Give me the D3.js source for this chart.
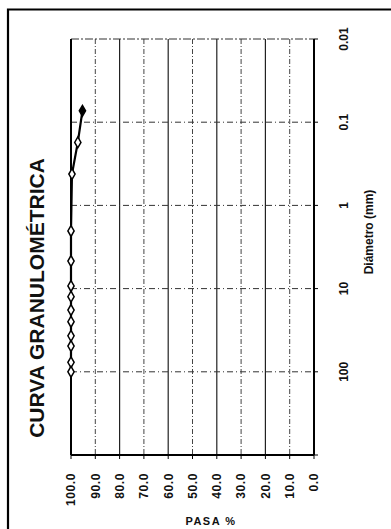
<!DOCTYPE html>
<html>
<head>
<meta charset="utf-8">
<script src="https://cdn.jsdelivr.net/npm/d3@7"></script>
<style>
  html, body { margin: 0; padding: 0; background: #fff; }
  svg { display: block; }
  text { font-family: "Liberation Sans", Arial, sans-serif; fill: #111; }
</style>
</head>
<body>
<div id="chart"></div>
<script>
// ---- data ----
const diametros = [0.073, 0.175, 0.42, 2.03, 4.66, 9.3, 12.5, 18.1, 25.0, 37.0, 49.0, 77.0, 100.0];
const pasa      = [95.3, 97.2, 99.6, 100, 100, 100, 100, 100, 100, 100, 100, 100, 100];
const pasaTicks = [100, 90, 80, 70, 60, 50, 40, 30, 20, 10, 0];
const diamTicks = [0.01, 0.1, 1, 10, 100];
const diamTickLabels = ["0.01", "0.1", "1", "10", "100"];
const titulo = "CURVA GRANULOMÉTRICA";
const ejeDiam = "Diámetro (mm)";
const ejePasa = "PASA %";

const W = 391, H = 529;
const svg = d3.select("#chart").append("svg").attr("width", W).attr("height", H);

// the chart is printed rotated 90° counter-clockwise on the page
const x = d3.scaleLinear().domain([100, 0]).range([71, 314]);     // % pasa (across)
const y = d3.scaleLog().domain([0.01, 1000]).range([39, 455]);     // diameter (down)

// outer page frame
svg.append("path").attr("d", "M8,529V9.5H391").attr("fill", "none")
  .attr("stroke", "#000").attr("stroke-width", 2.2);

const g = svg.append("g");

// vertical grid (pasa)
g.selectAll("line.vg").data(pasaTicks.filter(d => d !== 100 && d !== 0)).join("line")
  .attr("x1", d => x(d)).attr("x2", d => x(d))
  .attr("y1", y(0.01)).attr("y2", y(1000))
  .attr("stroke", d => d % 20 === 0 ? "#222" : "#444")
  .attr("stroke-width", d => d % 20 === 0 ? 1.2 : 1)
  .attr("stroke-dasharray", d => d % 20 === 0 ? null : "5,2,1,2");

// horizontal grid (decades)
g.selectAll("line.hg").data(diamTicks.filter(d => d !== 0.01)).join("line")
  .attr("x1", x(100)).attr("x2", x(0))
  .attr("y1", d => y(d)).attr("y2", d => y(d))
  .attr("stroke", "#333").attr("stroke-width", 1)
  .attr("stroke-dasharray", "6,3,1,3");

// plot frame
g.append("line").attr("x1", x(100)).attr("x2", x(0)).attr("y1", y(0.01)).attr("y2", y(0.01))
  .attr("stroke", "#333").attr("stroke-width", 1.2).attr("stroke-dasharray", "8,2,2,2");
g.append("line").attr("x1", x(100)).attr("x2", x(0)).attr("y1", y(1000)).attr("y2", y(1000))
  .attr("stroke", "#000").attr("stroke-width", 2);
g.append("line").attr("x1", x(100)).attr("x2", x(100)).attr("y1", y(0.01)).attr("y2", y(1000))
  .attr("stroke", "#000").attr("stroke-width", 2);
g.append("line").attr("x1", x(0)).attr("x2", x(0)).attr("y1", y(0.01)).attr("y2", y(1000))
  .attr("stroke", "#000").attr("stroke-width", 2);

// tick marks
g.selectAll("line.pt").data(pasaTicks).join("line")
  .attr("x1", d => x(d)).attr("x2", d => x(d))
  .attr("y1", y(1000)).attr("y2", y(1000) + 4)
  .attr("stroke", "#000").attr("stroke-width", 1);
g.selectAll("line.dt").data(diamTicks.concat([1000])).join("line")
  .attr("x1", x(0)).attr("x2", x(0) + 4)
  .attr("y1", d => y(d)).attr("y2", d => y(d))
  .attr("stroke", "#000").attr("stroke-width", 1);

// data curve
const pts = diametros.map((d, i) => [x(pasa[i]), y(d)]);
g.append("path").attr("d", d3.line()(pts)).attr("fill", "none")
  .attr("stroke", "#000").attr("stroke-width", 2.2);
const diamond = d3.symbol().type(d3.symbolDiamond).size(34);
g.selectAll("path.pt").data(pts).join("path")
  .attr("transform", d => `translate(${d[0]},${d[1]})`)
  .attr("d", diamond)
  .attr("fill", (d, i) => i === 0 ? "#000" : "#fff")
  .attr("stroke", "#000").attr("stroke-width", 1.5);

// pasa tick labels (rotated)
g.selectAll("text.pl").data(pasaTicks).join("text")
  .attr("transform", d => `translate(${x(d)},473) rotate(-90)`)
  .attr("text-anchor", "end").attr("dy", "0.36em")
  .attr("font-size", 12).attr("font-weight", "bold").attr("letter-spacing", 0.6)
  .text(d => d3.format(".1f")(d));

// diameter tick labels (rotated)
g.selectAll("text.dl").data(diamTicks).join("text")
  .attr("transform", d => `translate(344,${y(d)}) rotate(-90)`)
  .attr("text-anchor", "middle").attr("dy", "0.36em")
  .attr("font-size", 12).attr("font-weight", "bold")
  .text((d, i) => diamTickLabels[i]);

// axis titles
svg.append("text").attr("transform", `translate(373,232) rotate(-90)`)
  .attr("text-anchor", "middle").attr("font-size", 12).attr("font-weight", "bold")
  .text(ejeDiam);
svg.append("text").attr("x", 211).attr("y", 525)
  .attr("text-anchor", "middle").attr("font-size", 11).attr("font-weight", "bold")
  .attr("letter-spacing", 1.5)
  .text(ejePasa);

// chart title
svg.append("text").attr("transform", `translate(43.5,298) rotate(-90)`)
  .attr("text-anchor", "middle").attr("font-size", 21).attr("font-weight", "bold")
  .text(titulo);
</script>
</body>
</html>
